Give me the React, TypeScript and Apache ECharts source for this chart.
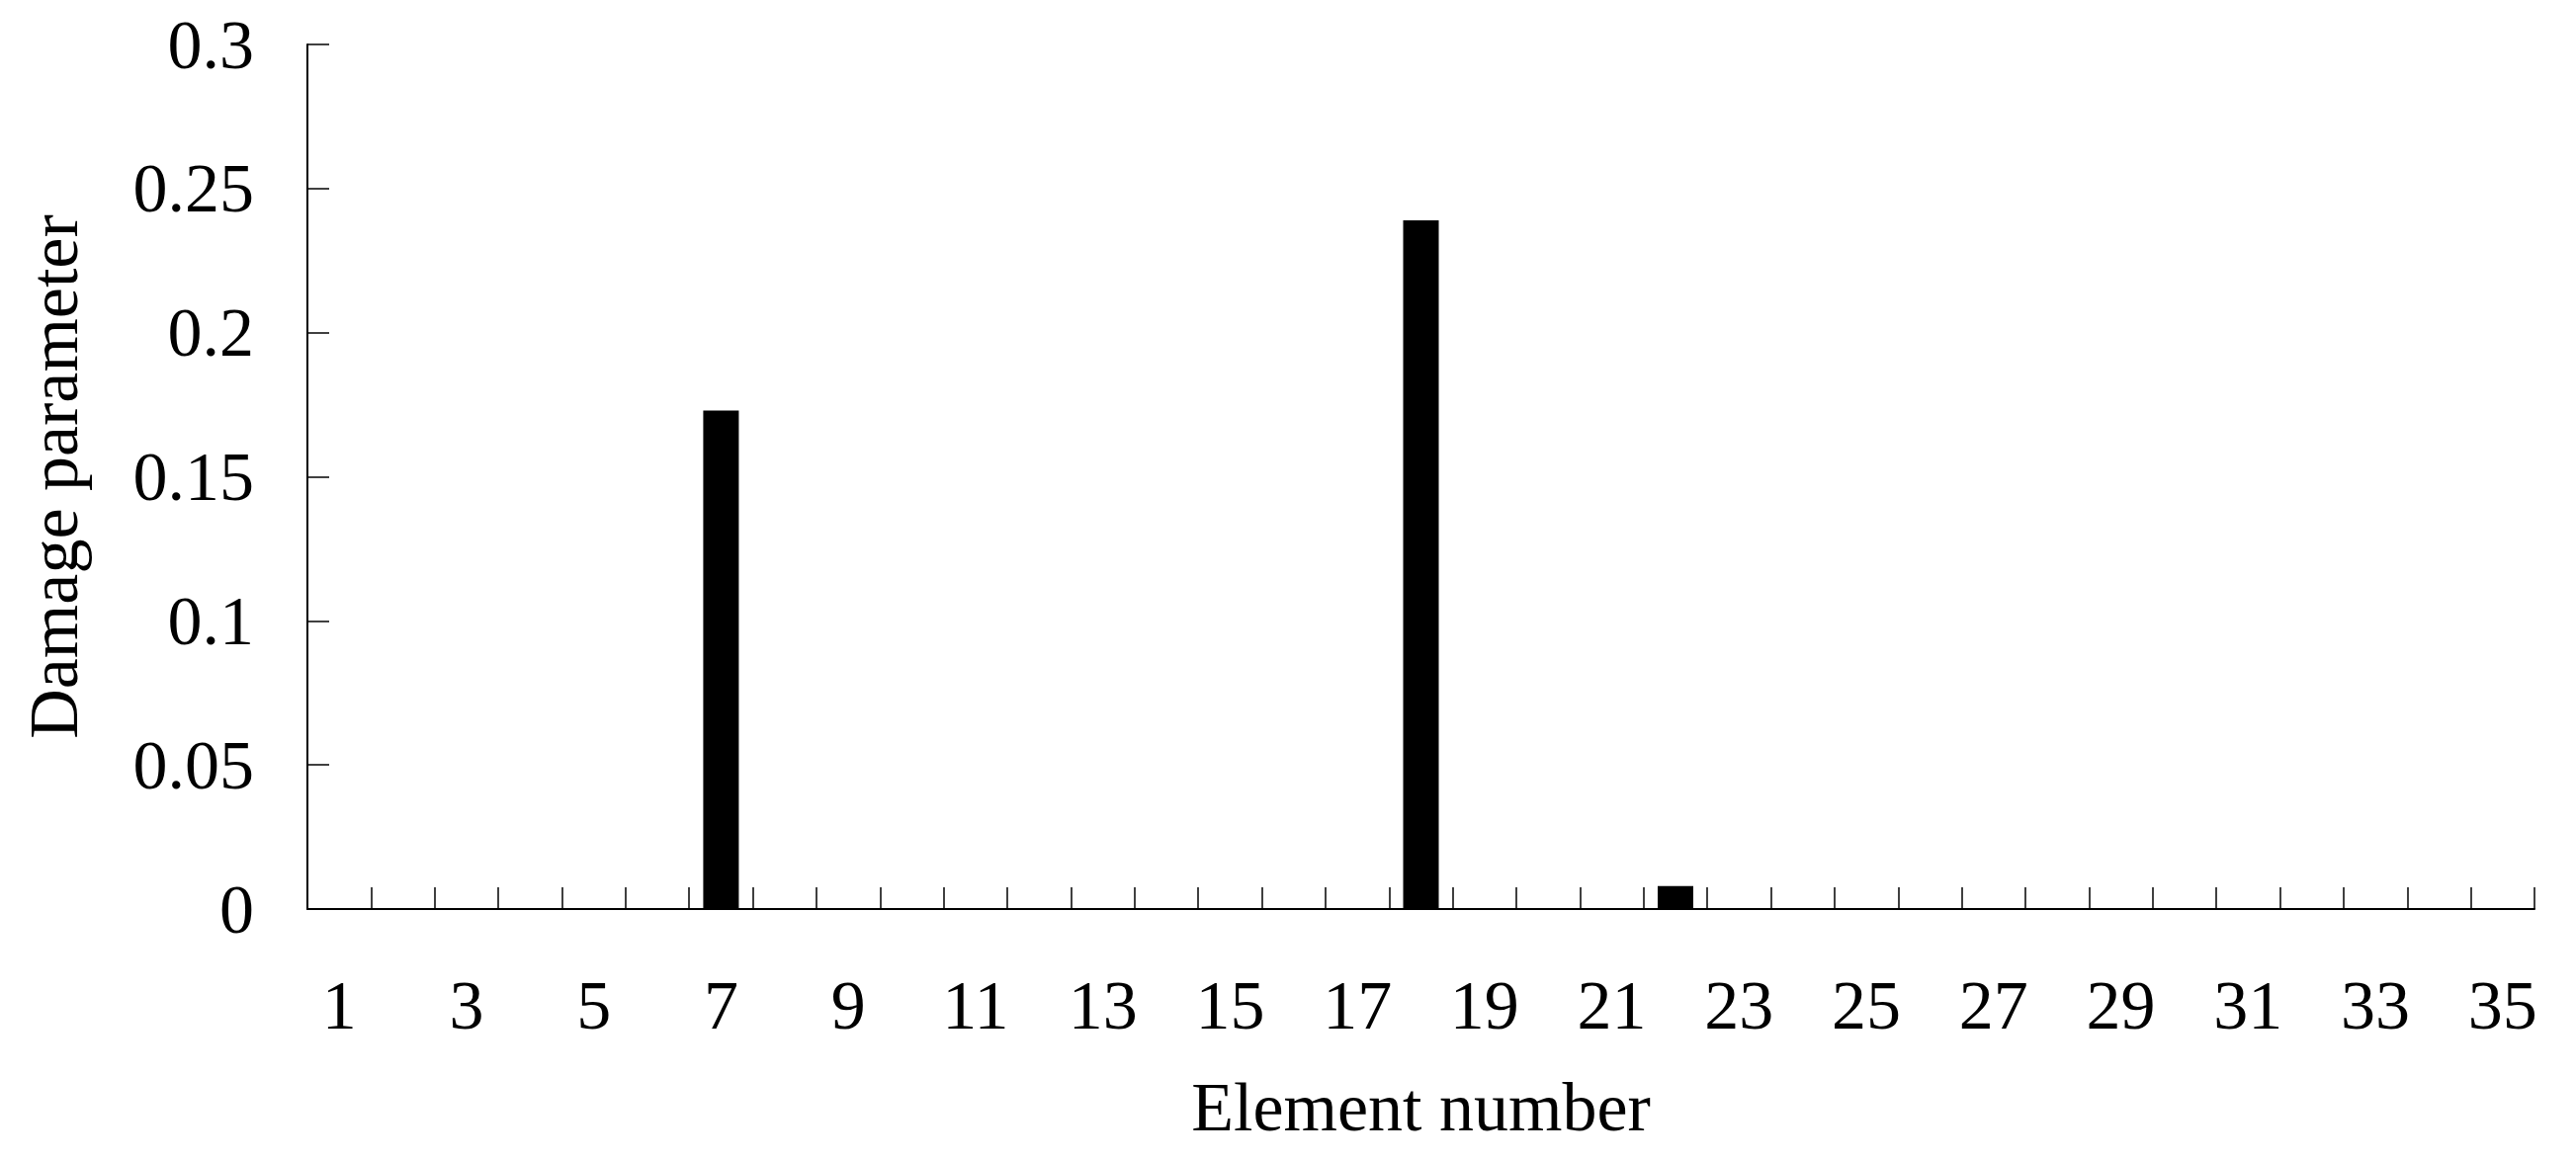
import React, { useEffect, useRef } from "react";
import * as echarts from "echarts";

const categories: string[] = Array.from({ length: 35 }, (_, i) => String(i + 1));
const damageValues: number[] = [
  0, 0, 0, 0, 0, 0, 0.173, 0, 0, 0,
  0, 0, 0, 0, 0, 0, 0, 0.239, 0, 0,
  0, 0.008, 0, 0, 0, 0, 0, 0, 0, 0,
  0, 0, 0, 0, 0,
];
const yMin = 0;
const yMax = 0.3;
const yInterval = 0.05;

const FONT = "'Liberation Serif', 'DejaVu Serif', serif";

export default function App() {
  const ref = useRef<HTMLDivElement>(null);
  useEffect(() => {
    document.body.style.margin = "0";
    if (!ref.current) return;
    const chart = echarts.init(ref.current, undefined, { renderer: "svg" });
    chart.setOption({
      animation: false,
      backgroundColor: "#ffffff",
      grid: { left: 311, right: 42, top: 45, bottom: 254, containLabel: false },
      xAxis: {
        type: "category",
        data: categories,
        boundaryGap: true,
        name: "Element number",
        nameLocation: "middle",
        nameGap: 165,
        nameTextStyle: { fontFamily: FONT, fontSize: 70, color: "#000" },
        axisLine: { show: true, lineStyle: { color: "#000", width: 2 } },
        axisTick: {
          show: true,
          inside: true,
          length: 22,
          interval: 0,
          alignWithLabel: false,
          lineStyle: { color: "#000", width: 1.5 },
        },
        axisLabel: {
          interval: 1,
          margin: 62,
          fontFamily: FONT,
          fontSize: 70,
          color: "#000",
        },
        splitLine: { show: false },
      },
      yAxis: {
        type: "value",
        min: yMin,
        max: yMax,
        interval: yInterval,
        name: "Damage parameter",
        nameLocation: "middle",
        nameRotate: 90,
        nameGap: 222,
        nameTextStyle: { fontFamily: FONT, fontSize: 70, color: "#000" },
        axisLine: { show: true, lineStyle: { color: "#000", width: 2 } },
        axisTick: {
          show: true,
          inside: true,
          length: 22,
          lineStyle: { color: "#000", width: 1.5 },
        },
        axisLabel: {
          margin: 54,
          fontFamily: FONT,
          fontSize: 70,
          color: "#000",
        },
        splitLine: { show: false },
      },
      series: [
        {
          type: "bar",
          data: damageValues,
          barWidth: 36,
          itemStyle: { color: "#000" },
        },
      ],
    });
    return () => chart.dispose();
  }, []);
  return <div ref={ref} style={{ width: 2606, height: 1174 }} />;
}
